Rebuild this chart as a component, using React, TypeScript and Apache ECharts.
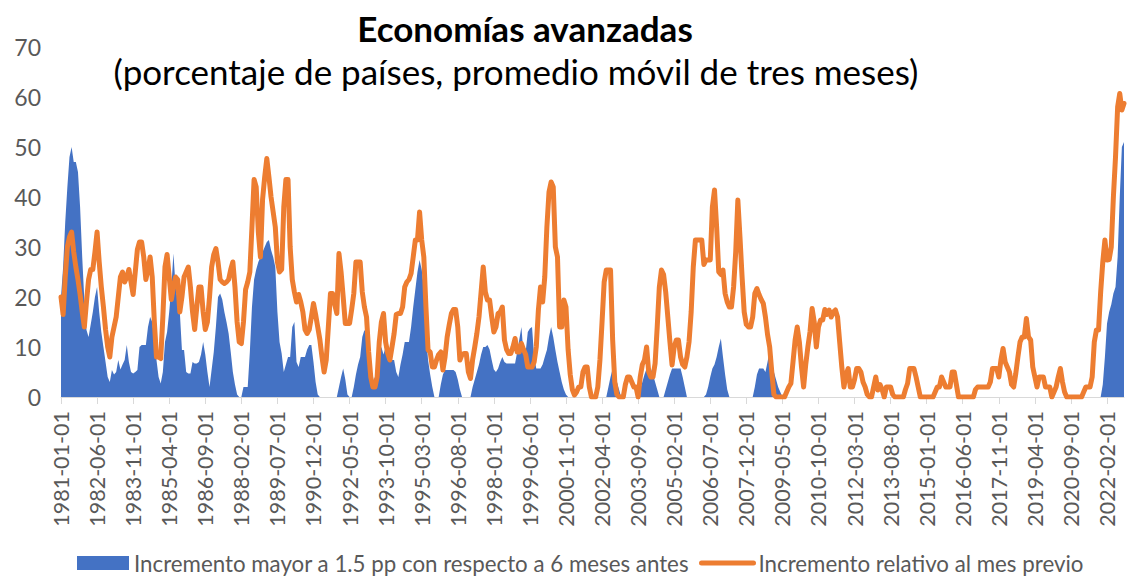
import React, { useEffect, useRef } from "react";
import * as echarts from "echarts";

const TITLE = "Economías avanzadas";
const SUBTITLE = "(porcentaje de países, promedio móvil de tres meses)";
const BLUE_NAME = "Incremento mayor a 1.5 pp con respecto a 6 meses antes";
const ORANGE_NAME = "Incremento relativo al mes previo";
const START_YEAR = 1981;

// Incremento relativo al mes previo (one line per year, monthly from 1981-01)
const orange: number[] = [
  20, 16.5, 24, 30, 32, 33, 29, 26, 23.5, 20.5, 17, 14, // 1981
  19, 23.5, 25.5, 25.5, 29, 33, 27, 22, 18, 13.5, 10, 8, // 1982
  12, 14, 16, 20, 24, 25, 23, 24, 25.5, 23, 20.5, 25, // 1983
  29.5, 31, 31, 28, 23.5, 25.5, 28, 24, 15, 8, 8, 7.7, // 1984
  16, 26, 28.5, 24, 19.5, 22, 24, 23.5, 17, 20, 24, 25, // 1985
  26, 22, 17, 13.5, 18, 22, 22, 17, 13.5, 15, 20, 26, // 1986
  28.5, 29.7, 27, 23.5, 23, 22.7, 23, 23.5, 25.5, 27, 22, 15, // 1987
  11, 10.7, 15, 21.5, 23, 25, 34, 43.5, 42, 33, 28, 39.5, // 1988
  44, 47.7, 44, 40, 37, 34, 27, 25, 25.5, 38, 43.5, 43.5, // 1989
  30, 23.5, 21, 19, 20.5, 19, 17, 13.5, 12.7, 13.5, 16, 18.7, // 1990
  16.5, 14, 11.5, 8, 5, 7.4, 14, 20.7, 20.7, 18.5, 16.7, 28.7, // 1991
  25, 20, 14.7, 14.7, 14.7, 17.5, 20.7, 27, 27, 27, 21, 18, // 1992
  16, 9, 4, 2, 2, 4, 11, 15, 16.7, 11, 8.7, 7.4, // 1993
  10, 12.7, 16.5, 16.7, 16.7, 18, 22, 23, 23.5, 24.7, 28, 31.4, // 1994
  31.4, 37, 31.4, 28, 18, 9.4, 9, 6, 6, 7.4, 8.5, 9, // 1995
  5.4, 8, 12, 14.5, 16.7, 17.5, 17.5, 14, 7.4, 8.5, 8.7, 8.7, // 1996
  5, 3.7, 7.5, 10, 12.7, 16, 21, 26, 21, 19.4, 19.4, 16, // 1997
  13, 14, 16.7, 17, 18, 11.4, 9.5, 8.7, 8.7, 10, 11.7, 9, // 1998
  9, 10.7, 9.5, 8.5, 6, 6, 6, 7, 10, 17.4, 22, 19, // 1999
  24, 34, 41, 43, 42, 30, 28, 14, 14, 19.4, 18, 9.5, // 2000
  4.5, 1.5, 0.4, 1, 2, 2, 5, 6, 6, 2, 0, 0, // 2001
  0, 2, 7.4, 15, 23, 25.4, 25.4, 25.4, 11.4, 3, 0.5, 0, // 2002
  0, 0, 2.5, 4, 4, 3, 2, 2, 0, 4, 6.5, 7.4, // 2003
  10, 5, 4, 4, 6.7, 14, 22, 25.4, 24.5, 21, 16, 11, // 2004
  6.4, 10, 11.4, 11.4, 8, 6.5, 6, 8, 11, 17, 26, 31.4, // 2005
  31.4, 31.4, 31.4, 26.5, 27.4, 27.4, 27.4, 38, 41.4, 34, 25, 24.5, // 2006
  25.4, 20.7, 19, 18, 18, 22, 29, 39.4, 32, 24, 17, 14.5, // 2007
  14, 14, 16, 20.7, 21.7, 20.5, 19.5, 18.7, 16, 12.5, 10, 5, // 2008
  0.5, 0, 0, 0, 0, 0, 1, 2, 2.7, 7, 11.4, 14, // 2009
  11, 6, 2, 6.5, 10, 13, 17.7, 15, 10, 14, 15.4, 15.4, // 2010
  17.5, 16.5, 17.4, 16, 17, 17.4, 16, 11, 6, 2, 4.5, 5.7, // 2011
  2, 2, 3.5, 5.7, 5.7, 5, 3, 2, 0.5, 0, 0, 2, // 2012
  4, 1.4, 2.5, 1.5, 0, 2, 2, 2, 0.5, 0, 0, 0, // 2013
  0, 0, 1.5, 2.7, 5.7, 5.7, 5.7, 4, 2, 0, 0, 0, // 2014
  0, 0, 0, 0, 1, 2, 2, 4, 3, 2, 2, 2, // 2015
  5, 5, 2.5, 0, 0, 0, 0, 0, 0, 0, 0, 1.5, // 2016
  2, 2, 2, 2, 2, 2, 3, 5.7, 5.7, 5.7, 4, 7.4, // 2017
  9.7, 7, 6, 5, 2.5, 2, 4.7, 8, 11, 12, 12, 15.7, // 2018
  12, 11.4, 6, 4, 2, 4, 4, 4, 2, 2, 2, 0, // 2019
  1, 2, 4, 5.7, 3, 1, 0, 0, 0, 0, 0, 0, // 2020
  0, 0, 1, 2, 2, 2, 4, 11, 13.4, 13.4, 21, 27, // 2021
  31.4, 27.4, 27.5, 30, 40, 48, 58, 60.7, 57.4, 58.7, // 2022 (Jan-Oct)
];

// Incremento mayor a 1.5 pp con respecto a 6 meses antes
const blue: number[] = [
  20, 26, 35, 42, 48, 50, 47, 47, 45, 38, 28, 19.4, // 1981
  13.4, 12, 14.5, 17, 20, 22, 17, 13, 10, 7, 4, 3, // 1982
  5.4, 4.5, 5, 7.4, 5.5, 6.5, 7.4, 10.4, 7, 5, 4.7, 5, // 1983
  5.4, 10, 10.4, 10.4, 10.4, 14, 16, 15, 11.4, 7.4, 4, 2.7, // 1984
  5, 11, 13, 17, 22, 28.7, 22, 19.4, 17, 9.4, 9.4, 5, // 1985
  4.7, 4.7, 7, 6.7, 6.7, 7, 8.5, 11, 8.5, 5, 2, 5.5, // 1986
  9, 14, 20, 20.7, 19.5, 17, 15, 12.7, 9, 5, 2.5, 0.5, // 1987
  0, 0, 2, 2, 2, 9, 18, 23.5, 25.5, 27, 28, 29, // 1988
  30, 31, 31.4, 29.4, 28, 26, 17, 11, 8.7, 5, 6.5, 8, // 1989
  8, 14, 15, 7, 6, 8, 8, 8, 9.5, 10.4, 10.4, 7, // 1990
  3, 0.5, 0, 0, 0, 0, 0, 0, 0, 0, 0, 2, // 1991
  4, 5.7, 3.5, 0.5, 0, 0, 2, 4.5, 6.5, 8, 12, 13.4, // 1992
  12.5, 8, 4.5, 3, 4, 6, 9, 10, 8.5, 10, 7.4, 7.4, // 1993
  7.4, 7.4, 5, 4, 6.5, 8.5, 11, 11, 11, 14, 18, 21.5, // 1994
  25, 27.4, 25.5, 22, 12.7, 7.4, 4.5, 2, 0, 0, 0, 2.5, // 1995
  4.5, 5.4, 5.4, 5.4, 5.4, 5.4, 5, 3.5, 1.5, 0, 0, 0, // 1996
  0, 0, 2, 3.5, 5, 6.5, 8.5, 10, 10, 10.4, 9.5, 7.4, // 1997
  5.5, 5, 5.7, 7, 8, 7, 6.7, 6.7, 6.7, 6.7, 6.7, 9, // 1998
  11.5, 14, 8.5, 9, 13, 13.7, 14, 8, 5.7, 5.7, 5.7, 6.5, // 1999
  8, 9.4, 12, 14, 12, 9.4, 7, 5, 3, 1.5, 0.5, 0, // 2000
  0, 0, 0, 0, 0, 0, 0, 0, 0, 0, 0, 0, // 2001
  0, 0, 0, 0, 0, 0, 2, 4, 5.7, 4.5, 3, 1.5, // 2002
  0, 0, 0, 0, 0, 0, 0, 0, 0, 1.5, 3, 4.5, // 2003
  5.7, 5.7, 5.7, 4.5, 3, 1.5, 0, 0, 0, 1.5, 3, 4.5, // 2004
  5.7, 5.7, 5.7, 5.7, 5.7, 4, 2, 0, 0, 0, 0, 0, // 2005
  0, 0, 0, 0, 0.5, 2, 4, 5.7, 6.5, 8, 10, 11.7, // 2006
  8, 4.5, 1.5, 0, 0, 0, 0, 0, 0, 0, 0, 0, // 2007
  0, 0, 0, 2, 4.5, 5.7, 5.7, 5.7, 5, 7, 9.4, 7, // 2008
  5, 3.5, 2, 1, 0, 0, 0, 0, 0, 0, 0, 0, // 2009
  0, 0, 0, 0, 0, 0, 0, 0, 0, 0, 0, 0, // 2010
  0, 0, 0, 0, 0, 0, 0, 0, 0, 0, 0, 0, // 2011
  0, 0, 0, 0, 0, 0, 0, 0, 0, 0, 0, 0, // 2012
  0, 0, 0, 0, 0, 0, 0, 0, 0, 0, 0, 0, // 2013
  0, 0, 0, 0, 0, 0, 0, 0, 0, 0, 0, 0, // 2014
  0, 0, 0, 0, 0, 0, 0, 0, 0, 0, 0, 0, // 2015
  0, 0, 0, 0, 0, 0, 0, 0, 0, 0, 0, 0, // 2016
  0, 0, 0, 0, 0, 0, 0, 0, 0, 0, 0, 0, // 2017
  0, 0, 0, 0, 0, 0, 0, 0, 0, 0, 0, 0, // 2018
  0, 0, 0, 0, 0, 0, 0, 0, 0, 0, 0, 0, // 2019
  0, 0, 0, 0, 0, 0, 0, 0, 0, 0, 0, 0, // 2020
  0, 0, 0, 0, 0, 0, 0, 0, 0, 0, 0, 2.5, // 2021
  8, 14.7, 17, 18.5, 20.7, 22, 28, 40, 50, 51, // 2022 (Jan-Oct)
];

const categories: string[] = orange.map((_, k) => {
  const y = START_YEAR + Math.floor(k / 12);
  const m = (k % 12) + 1;
  return `${y}-${String(m).padStart(2, "0")}-01`;
});

const FONT = "Lato, 'Open Sans', sans-serif";

export default function App() {
  const ref = useRef<HTMLDivElement>(null);
  useEffect(() => {
    if (!ref.current) return;
    const chart = echarts.init(ref.current, undefined, { renderer: "svg" });
    chart.setOption({
      animation: false,
      backgroundColor: "#ffffff",
      grid: { left: 61, right: 3, top: 47, bottom: 179, containLabel: false },
      graphic: [
        {
          type: "text",
          x: 525,
          y: 28,
          style: {
            text: TITLE,
            font: `bold 35px ${FONT}`,
            fill: "#000000",
            align: "center",
            verticalAlign: "middle",
            textAlign: "center",
            textVerticalAlign: "middle",
          },
        },
        {
          type: "text",
          x: 516,
          y: 71,
          style: {
            text: SUBTITLE,
            font: `35px ${FONT}`,
            fill: "#000000",
            align: "center",
            verticalAlign: "middle",
            textAlign: "center",
            textVerticalAlign: "middle",
          },
        },
      ],
      legend: {
        left: 72,
        top: 547,
        itemWidth: 52,
        itemHeight: 14,
        itemGap: 10,
        textStyle: { color: "#595959", fontSize: 22.3, fontFamily: FONT },
        data: [
          { name: BLUE_NAME, icon: "rect" },
          {
            name: ORANGE_NAME,
            itemStyle: { opacity: 0 },
            lineStyle: { width: 5, color: "#ED7D31", cap: "round" },
          },
        ],
      },
      xAxis: {
        type: "category",
        data: categories,
        boundaryGap: false,
        axisLine: { lineStyle: { color: "#d9d9d9", width: 1 } },
        axisTick: { interval: 16, length: 7, lineStyle: { color: "#d9d9d9" } },
        axisLabel: {
          interval: 16,
          rotate: 90,
          color: "#595959",
          fontSize: 21.5,
          fontFamily: FONT,
          margin: 14,
        },
        splitLine: { show: false },
      },
      yAxis: {
        type: "value",
        min: 0,
        max: 70,
        interval: 10,
        splitLine: { show: false },
        axisLine: { show: false },
        axisTick: { show: false },
        axisLabel: { color: "#595959", fontSize: 23, fontFamily: FONT, margin: 20 },
      },
      series: [
        {
          name: BLUE_NAME,
          type: "line",
          data: blue,
          symbol: "none",
          lineStyle: { width: 0, color: "#4472C4" },
          itemStyle: { color: "#4472C4" },
          areaStyle: { color: "#4472C4", opacity: 1 },
          z: 2,
        },
        {
          name: ORANGE_NAME,
          type: "line",
          data: orange,
          symbol: "none",
          lineStyle: { width: 5, color: "#ED7D31", cap: "round", join: "round" },
          itemStyle: { color: "#ED7D31" },
          z: 3,
        },
      ],
    });
    return () => chart.dispose();
  }, []);
  return (
    <div
      ref={ref}
      style={{ position: "fixed", left: 0, top: 0, width: 1127, height: 576 }}
    />
  );
}
